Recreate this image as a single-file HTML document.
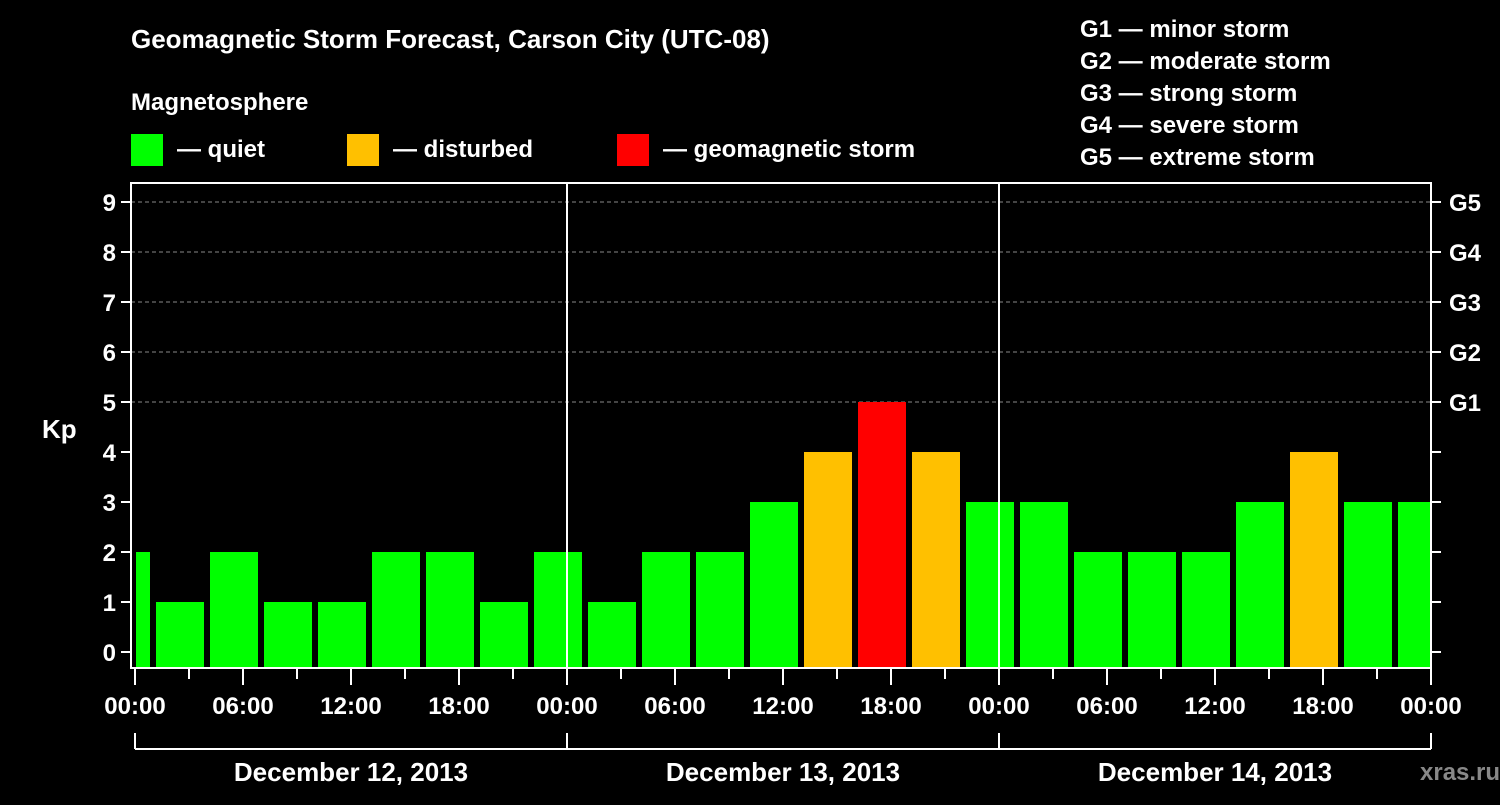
<!DOCTYPE html>
<html><head><meta charset="utf-8"><style>
body{margin:0;background:#000;width:1500px;height:800px;overflow:hidden}
svg text{font-family:"Liberation Sans",sans-serif;font-weight:bold;fill:#fff}
</style></head><body>
<svg id="c" width="1500" height="800">
<text x="131" y="48" font-size="26">Geomagnetic Storm Forecast, Carson City (UTC-08)</text>
<text x="131" y="110" font-size="24">Magnetosphere</text>
<g><rect x="131" y="134" width="32" height="32" fill="#00ff00"/><text x="177" y="157" font-size="24">— quiet</text></g>
<g><rect x="347" y="134" width="32" height="32" fill="#ffc000"/><text x="393" y="157" font-size="24">— disturbed</text></g>
<g><rect x="617" y="134" width="32" height="32" fill="#ff0000"/><text x="663" y="157" font-size="24">— geomagnetic storm</text></g>
<g font-size="24">
<text x="1080" y="37">G1 — minor storm</text><text x="1080" y="69">G2 — moderate storm</text><text x="1080" y="101">G3 — strong storm</text><text x="1080" y="133">G4 — severe storm</text><text x="1080" y="165">G5 — extreme storm</text></g>
<text x="42" y="438" font-size="26">Kp</text>
<text x="1420" y="780" font-size="24" fill="#888" style="fill:#888">xras.ru</text>
<g id="plot"></g>
</svg>
<script>
const kpValues=[2,1,2,1,1,2,2,1,2,1,2,2,3,4,5,4,3,3,2,2,2,3,4,3,3];
const yTicks=[0,1,2,3,4,5,6,7,8,9];
const gLabels=["G1","G2","G3","G4","G5"];
const xTickLabels=["00:00","06:00","12:00","18:00","00:00","06:00","12:00","18:00","00:00","06:00","12:00","18:00","00:00"];
const dayLabels=["December 12, 2013","December 13, 2013","December 14, 2013"];
const X0=131,X1=1431,T=183,B=668;
const x=h=>135+h*18;
const y=v=>652-v*50;
const NS="http://www.w3.org/2000/svg";
const g=document.getElementById('plot');
function mk(t,a,txt){const e=document.createElementNS(NS,t);for(const k in a)e.setAttribute(k,a[k]);if(txt!=null)e.textContent=txt;g.appendChild(e);return e;}
// grid
yTicks.forEach(v=>{if(v>=6||v==9||v==5){}});
[5,6,7,8,9].forEach(v=>{const l=mk('line',{x1:X0,x2:X1,y1:y(v),y2:y(v),stroke:'#888','stroke-dasharray':'4,3'});

});
// bars
kpValues.forEach((v,i)=>{const c=-2+3*i+1.5;let a=x(c)-24,b=x(c)+24;a=Math.max(a,X0+5);b=Math.min(b,X1-1);
const col=v>=5?'#ff0000':v==4?'#ffc000':'#00ff00';
const r=mk('rect',{x:a,y:y(v),width:b-a,height:B-1-y(v),fill:col});

});
// day lines
[24,48].forEach(h=>{mk('line',{x1:x(h),x2:x(h),y1:T,y2:B,stroke:'#fff','stroke-width':2});});
// frame
const fr=mk('rect',{x:X0,y:T,width:X1-X0,height:B-T,fill:'none',stroke:'#fff','stroke-width':2});


// y ticks
yTicks.forEach(v=>{mk('line',{x1:X0-10,x2:X0,y1:y(v),y2:y(v),stroke:'#fff','stroke-width':2});
mk('line',{x1:X1,x2:X1+10,y1:y(v),y2:y(v),stroke:'#fff','stroke-width':2});
const t=mk('text',{x:X0-15,y:y(v)+9,'font-size':24,'text-anchor':'end'},v);

});
gLabels.forEach((s,i)=>{const t=mk('text',{x:1449,y:y(5+i)+9,'font-size':24},s);

});
// x ticks
for(let h=0;h<=72;h+=3){const maj=h%6==0;mk('line',{x1:x(h),x2:x(h),y1:B,y2:B+(maj?17:11),stroke:'#fff','stroke-width':2});}
xTickLabels.forEach((s,i)=>{const t=mk('text',{x:x(i*6),y:714,'font-size':24,'text-anchor':'middle'},s);

});
// day bracket
mk('line',{x1:x(0),x2:x(72),y1:749,y2:749,stroke:'#fff','stroke-width':2});
[0,24,48,72].forEach(h=>mk('line',{x1:x(h),x2:x(h),y1:733,y2:749,stroke:'#fff','stroke-width':2}));
dayLabels.forEach((s,i)=>{const t=mk('text',{x:x(i*24+12),y:781,'font-size':26,'text-anchor':'middle'},s);

});
</script>
</body></html>
